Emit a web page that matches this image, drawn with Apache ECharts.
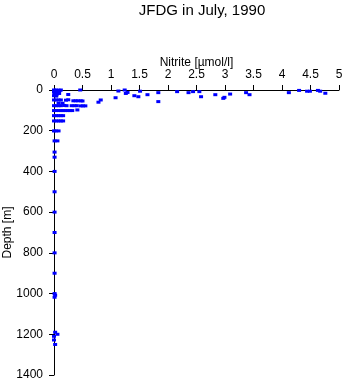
<!DOCTYPE html>
<html>
<head>
<meta charset="utf-8">
<script src="https://cdn.jsdelivr.net/npm/echarts@6/dist/echarts.min.js"></script>
<style>html,body{margin:0;padding:0;background:#fff}#c{width:345px;height:384px}</style>
</head>
<body>
<div id="c"></div>
<script>
const titleText = "JFDG in July, 1990";
const xName = "Nitrite [\u00b5mol/l]";
const yName = "Depth [m]";

// Nitrite concentration (µmol/l)
const nitrite = [
  0.00,0.04,0.08,0.12,0.46,
  0.02,0.06,0.10,
  0.00,0.03,0.07,
  0.01,0.05,0.09,0.25,
  0.00,0.04,
  1.13,1.08,1.24,1.29,1.26,1.41,1.48,1.51,1.64,1.83,1.83,2.16,2.36,2.44,2.55,2.58,2.83,2.97,2.99,3.09,3.37,3.43,4.12,4.30,4.44,4.49,4.63,4.67,4.76,
  0.00,0.04,0.08,0.12,0.21,0.25,0.34,0.38,0.42,0.47,0.50,0.82,0.78,
  0.08,0.15,
  0.00,0.04,0.08,0.12,0.18,0.22,0.31,0.36,0.40,0.47,0.51,0.55,
  0.00,0.04,0.08,0.12,0.16,0.20,0.24,0.28,0.32,0.41,
  0.00,0.04,0.08,0.12,0.16,
  0.00,0.04,0.08,0.12,0.16,
  0.00,0.03,0.08,
  0.01,0.06,
  0.01,0.01,0.01,0.01,0.01,0.01,0.01,0.01,
  0.01,0.02,0.01,
  0.02,0.06,0.00,0.00,0.02
];
// Depth (m)
const depth = [
  0,0,1,0,0,
  4,5,3,
  10,12,14,
  18,20,17,22,
  28,30,
  5,38,0,12,17,28,33,6,23,13,57,8,13,8,8,33,23,41,36,20,13,23,13,2,6,6,2,6,16,
  49,49,49,49,50,48,53,53,53,53,54,49,60,
  65,65,
  77,77,77,77,76,77,77,77,77,78,78,78,
  101,101,101,101,101,101,101,101,101,98,
  126,126,126,126,126,
  152,152,152,152,152,
  201,201,201,
  250,250,
  305,330,400,500,600,700,800,900,
  1000,1008,1018,
  1190,1200,1210,1228,1250
];

const points = nitrite.map((v, i) => [v, depth[i]]);

const chart = echarts.init(document.getElementById('c'), null, {renderer: 'canvas'});
const font = 'Liberation Sans, Arial, Helvetica, sans-serif';
chart.setOption({
  animation: false,
  backgroundColor: '#fff',
  title: {
    text: titleText,
    left: 197, top: -2, textAlign: 'center',
    textStyle: {fontFamily: font, fontSize: 15, fontWeight: 'normal', color: '#000'}
  },
  grid: {left: 54, right: 6, top: 90, bottom: 9, containLabel: false, outerBoundsMode: 'none'},
  xAxis: {
    type: 'value', position: 'top', min: 0, max: 5, interval: 0.5,
    name: xName, nameLocation: 'middle', nameGap: 21, nameMoveOverlap: false,
    nameTextStyle: {fontFamily: font, fontSize: 12, color: '#000'},
    axisLine: {show: true, lineStyle: {color: '#000', width: 1}},
    axisTick: {show: true, inside: false, length: 5, lineStyle: {color: '#000'}},
    axisLabel: {fontFamily: font, fontSize: 12, color: '#000', margin: 9, formatter: v => String(v)},
    splitLine: {show: false}
  },
  yAxis: {
    type: 'value', inverse: true, min: 0, max: 1400, interval: 200,
    name: yName, nameLocation: 'middle', nameGap: 40, nameMoveOverlap: false,
    nameTextStyle: {fontFamily: font, fontSize: 12, color: '#000'},
    axisLine: {show: true, lineStyle: {color: '#000', width: 1}},
    axisTick: {show: true, inside: false, length: 5, lineStyle: {color: '#000'}},
    axisLabel: {fontFamily: font, fontSize: 12, color: '#000', margin: 11, formatter: v => String(v)},
    splitLine: {show: false}
  },
  series: [{
    type: 'scatter',
    data: points,
    symbol: 'rect',
    symbolSize: [4, 3],
    itemStyle: {color: '#0000ff', opacity: 1},
    clip: false
  }]
});
</script>
</body>
</html>
